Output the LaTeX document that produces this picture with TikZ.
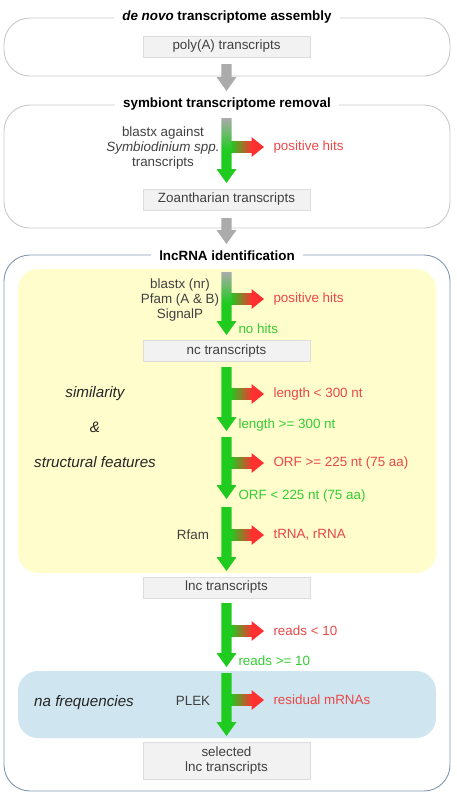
\documentclass[tikz,border=0pt]{standalone}
\usepackage{fontspec}
\setmainfont{Liberation Sans}
\usetikzlibrary{calc}

% Colours.
\definecolor{frameGray}{HTML}{C8C8C8}
\definecolor{frameBlue}{HTML}{7F97B2}
\definecolor{bgYellow}{HTML}{FFFDCC}
\definecolor{bgBlue}{HTML}{CFE5EF}
\definecolor{boxFill}{HTML}{F2F2F2}
\definecolor{boxLine}{HTML}{DCDCDC}
\definecolor{arrowGray}{HTML}{ABABAB}
\definecolor{arrowGreen}{HTML}{1FCB1F}
\definecolor{arrowRed}{HTML}{FF3030}
\definecolor{hitRed}{HTML}{E84848}
\definecolor{passGreen}{HTML}{33CC33}
\definecolor{textGray}{HTML}{404040}

% Block arrow pointing down: #1 options, #2 start, #3 tip.
\newcommand{\blockDown}[3]{%
  \path[#1] let \p1=(#2), \p2=(#3) in
    (\x1-\shaftHalf pt,\y1)--(\x1+\shaftHalf pt,\y1)
    --(\x1+\shaftHalf pt,\y2+\headLen pt)--(\x1+\headHalf pt,\y2+\headLen pt)
    --(\x2,\y2)
    --(\x1-\headHalf pt,\y2+\headLen pt)--(\x1-\shaftHalf pt,\y2+\headLen pt)--cycle;}

% Block arrow pointing right: #1 shaft options, #2 start.
\newcommand{\blockRight}[2]{%
  \path[#1] let \p1=(#2) in
    (\x1,\y1-\sideHalf pt)rectangle(\x1+\sideShaft pt+0.5pt,\y1+\sideHalf pt);
  \fill[arrowRed] let \p1=(#2) in
    (\x1+\sideShaft pt,\y1-\sideHeadHalf pt)--(\x1+\sideLen pt,\y1)
    --(\x1+\sideShaft pt,\y1+\sideHeadHalf pt)--cycle;}

\begin{document}
\begin{tikzpicture}[x=1pt,y=-1pt,
    every node/.style={font=\fontsize{13.4}{15}\selectfont,text=textGray},
    title/.style={fill=white,inner xsep=8pt,inner ysep=1pt,text=black,font=\fontsize{13.4}{15}\selectfont\bfseries},
    stepbox/.style={draw=boxLine,fill=boxFill,minimum width=167pt,minimum height=21pt,inner sep=1pt,align=center},
    hit/.style={anchor=west,text=hitRed},
    pass/.style={anchor=west,text=passGreen},
    tool/.style={align=center},
    theme/.style={font=\fontsize{15.2}{17}\selectfont\itshape,text=black!85},
    fadeArrow/.style={top color=arrowGray,bottom color=arrowGreen,middle color=arrowGreen},
    dropArrow/.style={left color=arrowGreen,right color=arrowRed}]

        % -----------
        % Parameters.
        % -----------

        \pgfmathsetmacro{\shaftHalf}{5.2}     % Half width of vertical shaft.
        \pgfmathsetmacro{\headHalf}{10}       % Half width of vertical head.
        \pgfmathsetmacro{\headLen}{14}        % Length of vertical head.
        \pgfmathsetmacro{\sideHalf}{5.5}      % Half height of side shaft.
        \pgfmathsetmacro{\sideHeadHalf}{10}   % Half height of side head.
        \pgfmathsetmacro{\sideShaft}{21}      % Length of side shaft.
        \pgfmathsetmacro{\sideLen}{33.5}      % Total length of side arrow.
        \pgfmathsetmacro{\xMid}{226.5}        % x-position of the main flow.
        \pgfmathsetmacro{\xSide}{230.5}       % x-position where side arrows start.

        \useasboundingbox (0,0) rectangle (457,793);

        % --------
        % Drawing.
        % --------

        % Frames and coloured bands.
        \draw[frameGray,line width=0.9pt,rounded corners=26pt](4,18)rectangle(450,76);
        \draw[frameGray,line width=0.9pt,rounded corners=26pt](4,105)rectangle(450,228);
        \draw[frameBlue,line width=0.9pt,rounded corners=26pt](4,255)rectangle(450,791);
        \fill[bgYellow,rounded corners=20pt](18,269)rectangle(436,573);
        \fill[bgBlue,rounded corners=20pt](18,671)rectangle(436,738);

        % Titles.
        \node[title] (titleAssembly) at (227,17) {\textit{de novo} transcriptome assembly};
        \node[title] (titleRemoval) at (227,104) {symbiont transcriptome removal};
        \node[title] (titleLnc) at (227,256) {lncRNA identification};

        % Transcript sets.
        \node[stepbox] (boxPoly) at (\xMid,46.5) {poly(A) transcripts};
        \node[stepbox] (boxZoa) at (\xMid,199.5) {Zoantharian transcripts};
        \node[stepbox] (boxNc) at (\xMid,351) {nc transcripts};
        \node[stepbox] (boxLnc) at (\xMid,587.5) {lnc transcripts};
        \node[stepbox,minimum height=37pt] (boxSelected) at (\xMid,760.5) {selected\\lnc transcripts};

        % Ends of the arrows.
        \coordinate (grayOneTop) at (\xMid,64);    \coordinate (grayOneTip) at (\xMid,91);
        \coordinate (grayTwoTop) at (\xMid,218);   \coordinate (grayTwoTip) at (\xMid,244);
        \coordinate (symTop) at (\xMid,118);       \coordinate (symTip) at (\xMid,183);
        \coordinate (nrTop) at (\xMid,272);        \coordinate (nrTip) at (\xMid,335);
        \coordinate (lengthTop) at (\xMid,367);    \coordinate (lengthTip) at (\xMid,431);
        \coordinate (orfTop) at (\xMid,437);       \coordinate (orfTip) at (\xMid,499);
        \coordinate (rfamTop) at (\xMid,507);      \coordinate (rfamTip) at (\xMid,571);
        \coordinate (readsTop) at (\xMid,603);     \coordinate (readsTip) at (\xMid,667);
        \coordinate (plekTop) at (\xMid,673);      \coordinate (plekTip) at (\xMid,736);
        \coordinate (symSide) at (\xSide,147);
        \coordinate (nrSide) at (\xSide,299);
        \coordinate (lengthSide) at (\xSide,394);
        \coordinate (orfSide) at (\xSide,463);
        \coordinate (rfamSide) at (\xSide,535);
        \coordinate (readsSide) at (\xSide,631);
        \coordinate (plekSide) at (\xSide,700);

        % Gray arrows between frames.
        \blockDown{fill=arrowGray}{grayOneTop}{grayOneTip}
        \blockDown{fill=arrowGray}{grayTwoTop}{grayTwoTip}

        % Side arrows (discarded sets).
        \blockRight{dropArrow}{symSide}
        \blockRight{dropArrow}{nrSide}
        \blockRight{dropArrow}{lengthSide}
        \blockRight{dropArrow}{orfSide}
        \blockRight{dropArrow}{rfamSide}
        \blockRight{dropArrow}{readsSide}
        \blockRight{dropArrow}{plekSide}

        % Filtering arrows (kept sets).
        \blockDown{fadeArrow}{symTop}{symTip}
        \blockDown{fadeArrow}{nrTop}{nrTip}
        \blockDown{fill=arrowGreen}{lengthTop}{lengthTip}
        \blockDown{fill=arrowGreen}{orfTop}{orfTip}
        \blockDown{fill=arrowGreen}{rfamTop}{rfamTip}
        \blockDown{fill=arrowGreen}{readsTop}{readsTip}
        \blockDown{fill=arrowGreen}{plekTop}{plekTip}

        % Tools.
        \node[tool] (toolSym) at (163,148) {blastx against\\\textit{Symbiodinium spp.}\\transcripts};
        \node[tool] (toolNr) at (180,300) {blastx (nr)\\Pfam (A \& B)\\SignalP};
        \node[tool] (toolRfam) at (193,535) {Rfam};
        \node[tool] (toolPlek) at (193,701) {PLEK};

        % Discarded sets.
        \node[hit] (hitSym) at (270,147) {positive hits};
        \node[hit] (hitNr) at (270,299) {positive hits};
        \node[hit] (hitLength) at (270,394) {length < 300 nt};
        \node[hit] (hitOrf) at (270,463) {ORF >= 225 nt (75 aa)};
        \node[hit] (hitRna) at (270,535) {tRNA, rRNA};
        \node[hit] (hitReads) at (270,631) {reads < 10};
        \node[hit] (hitResidual) at (270,700) {residual mRNAs};

        % Kept sets.
        \node[pass] (passNr) at (235,329) {no hits};
        \node[pass] (passLength) at (235,425) {length >= 300 nt};
        \node[pass] (passOrf) at (235,496) {ORF < 225 nt (75 aa)};
        \node[pass] (passReads) at (235,661) {reads >= 10};

        % Themes.
        \node[theme] (themeSimilarity) at (95,394) {similarity};
        \node[theme] (themeAnd) at (95,427) {\&};
        \node[theme] (themeStructure) at (95,462) {structural features};
        \node[theme] (themeFreq) at (84,703) {na frequencies};

    \end{tikzpicture}
\end{document}
